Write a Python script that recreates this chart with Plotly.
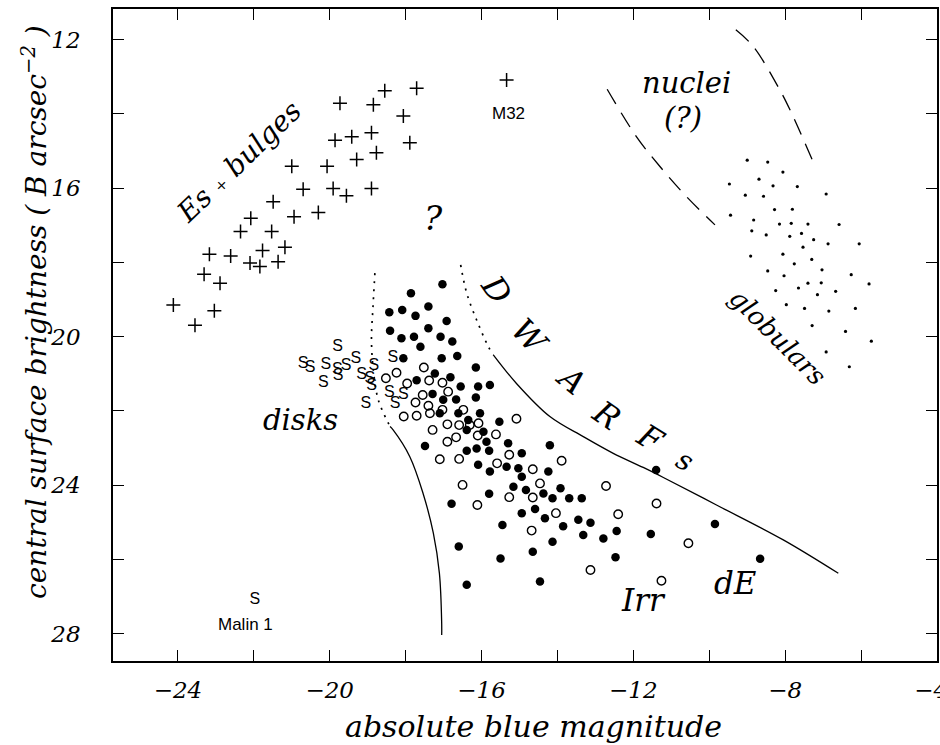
import plotly.graph_objects as go

# ---------------- data (absolute blue magnitude, central surface brightness) -------------
es_M = [-24.12, -23.55, -23.04, -23.31, -22.89, -23.17, -22.61, -22.35, -22.08, -22.10,
        -21.84, -21.77, -21.53, -21.49, -21.36, -21.18, -20.94, -21.00, -20.70, -20.30,
        -20.07, -19.91, -19.56, -19.86, -19.42, -18.90, -19.29, -18.77, -18.90, -19.73,
        -18.85, -18.55, -17.71, -18.06, -17.89]
es_mu = [19.15, 19.69, 19.30, 18.32, 18.56, 17.78, 17.83, 17.17, 16.81, 18.02,
         18.11, 17.68, 17.17, 16.37, 17.98, 17.59, 16.77, 15.41, 16.03, 16.66,
         15.41, 16.01, 16.21, 14.71, 14.62, 14.51, 15.23, 15.05, 16.01, 13.72,
         13.76, 13.38, 13.31, 14.06, 14.78]

m32_M = [-15.34]
m32_mu = [13.09]

glob_M = [-9.00, -8.46, -8.06, -8.69, -8.32, -7.68, -9.47, -9.05, -8.57, -6.92,
          -8.28, -7.81, -9.44, -8.83, -8.15, -7.84, -7.40, -6.58, -8.88, -8.50,
          -7.88, -7.57, -7.25, -6.87, -6.05, -7.53, -8.91, -8.06, -7.76, -7.30,
          -7.03, -8.46, -8.03, -6.26, -5.79, -7.40, -7.65, -7.05, -7.15, -6.67,
          -8.25, -7.97, -7.49, -6.85, -6.15, -7.29, -6.41, -5.73, -6.92, -6.31]
glob_mu = [15.25, 15.30, 15.57, 15.76, 15.94, 15.96, 15.89, 16.19, 16.22, 16.16,
           16.58, 16.57, 16.73, 16.86, 16.97, 16.95, 16.97, 16.98, 17.15, 17.26,
           17.30, 17.22, 17.39, 17.50, 17.50, 17.59, 17.83, 17.78, 18.04, 17.92,
           18.20, 18.23, 18.36, 18.33, 18.58, 18.56, 18.69, 18.55, 18.87, 18.78,
           18.76, 19.14, 19.24, 19.31, 19.24, 19.70, 19.86, 20.12, 20.41, 20.81]

dE_M = [-17.03, -17.86, -18.43, -18.09, -17.74, -17.40, -16.92, -18.41, -18.11, -17.78,
        -17.40, -17.61, -17.08, -16.77, -16.64, -17.05, -18.06, -16.15, -17.23, -16.82,
        -16.55, -16.09, -15.78, -17.71, -17.29, -17.01, -16.67, -16.15, -17.10, -16.61,
        -16.04, -16.35, -15.53, -16.39, -17.49, -15.95, -15.87, -16.13, -16.39, -15.80,
        -15.30, -14.94, -16.09, -15.78, -15.34, -15.03, -14.20, -14.24, -14.94, -15.16,
        -14.83, -15.80, -14.37, -13.92, -14.13, -13.69, -13.36, -16.79, -14.94, -14.59,
        -14.33, -13.45, -13.13, -15.45, -13.85, -13.32, -14.13, -16.60, -15.50, -14.65,
        -16.39, -14.46, -12.79, -12.44, -12.47, -11.54, -11.40, -9.85, -8.66]
dE_mu = [18.59, 18.83, 19.34, 19.28, 19.44, 19.19, 19.58, 19.84, 20.04, 20.00,
         19.77, 20.27, 20.00, 20.13, 20.52, 20.58, 20.58, 20.83, 20.99, 21.09,
         21.34, 21.34, 21.30, 21.17, 21.54, 21.70, 21.69, 21.64, 22.06, 22.06,
         22.06, 22.24, 22.29, 22.51, 22.94, 22.56, 22.83, 23.01, 23.07, 23.07,
         22.87, 23.14, 23.45, 23.63, 23.50, 23.54, 22.92, 23.63, 23.77, 24.04,
         24.13, 24.23, 24.22, 24.08, 24.35, 24.35, 24.35, 24.50, 24.75, 24.64,
         24.89, 24.93, 25.01, 25.07, 25.10, 25.34, 25.52, 25.65, 25.97, 25.79,
         26.68, 26.59, 25.43, 25.23, 25.94, 25.31, 23.59, 25.04, 25.98]

irr_M = [-17.52, -18.24, -18.52, -17.96, -17.38, -17.03, -16.88, -17.55, -17.74, -17.40,
         -17.36, -17.03, -18.05, -17.71, -16.90, -16.59, -16.48, -16.31, -16.08, -17.29,
         -16.90, -16.67, -16.10, -15.62, -15.08, -17.10, -16.59, -15.59, -15.27, -14.65,
         -13.89, -14.46, -16.50, -16.11, -15.27, -14.65, -14.04, -14.68, -13.13, -12.40,
         -12.72, -11.39, -10.55, -11.26]
irr_mu = [20.83, 20.97, 21.12, 21.26, 21.18, 21.24, 21.48, 21.57, 21.77, 21.86,
          22.06, 21.97, 22.15, 22.13, 22.36, 22.38, 21.97, 22.38, 22.33, 22.51,
          22.83, 22.71, 22.66, 22.63, 22.21, 23.30, 23.29, 23.41, 23.18, 23.57,
          23.34, 23.95, 23.99, 24.53, 24.32, 24.33, 24.75, 25.22, 26.28, 24.78,
          24.02, 24.49, 25.56, 26.57]

disk_M = [-19.79, -20.70, -20.52, -20.10, -19.80, -19.57, -19.31, -20.17, -19.78, -19.16,
          -18.84, -18.34, -18.94, -18.90, -18.43, -18.06, -19.05, -18.28]
disk_mu = [20.27, 20.73, 20.85, 20.76, 20.90, 20.78, 20.61, 21.26, 21.06, 21.03,
           20.79, 20.58, 21.15, 21.34, 21.51, 21.57, 21.81, 21.81]

malin_M = [-21.97]
malin_mu = [27.09]

# region boundaries
upper_dot_M = [-16.55, -16.39, -16.13, -15.82, -15.69]
upper_dot_mu = [18.07, 18.83, 19.55, 20.27, 20.49]
upper_M = [-15.69, -15.08, -14.20, -13.32, -12.53, -11.74, -11.21, -9.81, -8.05, -6.60]
upper_mu = [20.49, 21.26, 22.15, 22.69, 23.14, 23.52, 23.79, 24.53, 25.47, 26.37]
lower_dot_M = [-18.81, -18.86, -18.90, -18.85, -18.72, -18.41]
lower_dot_mu = [18.29, 19.20, 20.09, 20.90, 21.70, 22.42]
lower_M = [-18.41, -18.33, -17.89, -17.54, -17.27, -17.11, -17.05, -17.05]
lower_mu = [22.42, 22.51, 23.23, 24.22, 25.29, 26.37, 27.72, 28.03]
nuc_left_M = [-12.69, -11.93, -11.30, -10.60, -9.85]
nuc_left_mu = [13.34, 14.60, 15.42, 16.23, 16.99]
nuc_right_M = [-9.30, -8.84, -8.14, -7.87, -7.21]
nuc_right_mu = [11.74, 12.19, 13.36, 13.90, 15.42]

x_major = [-24, -20, -16, -12, -8, -4]
x_labels = ["\u221224", "\u221220", "\u221216", "\u221212", "\u22128", "\u22124\u2002"]
x_minor = [-22, -18, -14, -10, -6]
y_major = [12, 16, 20, 24, 28]
y_labels = ["12", "16", "20", "24", "28"]
y_minor = [14, 18, 22, 26]

# ---------------- figure ----------------
SERIF = "DejaVu Serif"
SANS = "Liberation Sans"
fig = go.Figure()

def line(xs, ys, dash="solid", width=1.3):
    fig.add_trace(go.Scatter(x=xs, y=ys, mode="lines", line_shape="spline",
                             line=dict(color="black", width=width, dash=dash),
                             hoverinfo="skip"))

line(upper_dot_M, upper_dot_mu, dash="2px,6px", width=1.7)
line(upper_M, upper_mu)
line(lower_dot_M, lower_dot_mu, dash="2px,6px", width=1.7)
line(lower_M, lower_mu)
line(nuc_left_M, nuc_left_mu, dash="17px,10px", width=1.3)
line(nuc_right_M, nuc_right_mu, dash="17px,10px", width=1.3)

fig.add_trace(go.Scatter(x=es_M + m32_M, y=es_mu + m32_mu, mode="markers",
                         marker=dict(symbol="cross-thin", size=10, color="black",
                                     line=dict(width=1.5, color="black"))))
fig.add_trace(go.Scatter(x=glob_M, y=glob_mu, mode="markers",
                         marker=dict(symbol="circle", size=3.2, color="black")))
fig.add_trace(go.Scatter(x=dE_M, y=dE_mu, mode="markers",
                         marker=dict(symbol="circle", size=8.5, color="black")))
fig.add_trace(go.Scatter(x=irr_M, y=irr_mu, mode="markers",
                         marker=dict(symbol="circle-open", size=8.5, color="black",
                                     line=dict(width=1.4, color="black"))))
fig.add_trace(go.Scatter(x=disk_M + malin_M, y=disk_mu + malin_mu, mode="text",
                         text=["S"] * (len(disk_M) + len(malin_M)),
                         textfont=dict(family=SANS, size=16, color="black")))

def note(x, y, text, size=26, angle=0, family=SERIF, italic=True):
    fig.add_annotation(x=x, y=y, text=text, showarrow=False, textangle=angle,
                       font=dict(family=family, size=size, color="black",
                                 style="italic" if italic else "normal"))

note(-22.38, 15.29, "Es <span style='font-size:15px'>+</span> bulges", size=28, angle=-44)
note(-17.27, 16.81, "?", size=34)
note(-15.29, 13.99, "M32", size=17, family=SANS, italic=False)
note(-10.60, 13.17, "nuclei", size=29)
note(-10.69, 14.11, "(?)", size=29)
note(-8.19, 20.01, "globulars", size=26, angle=45)
note(-20.76, 22.24, "disks", size=29)
note(-11.72, 27.09, "Irr", size=31)
note(-9.31, 26.64, "dE", size=31)
note(-22.21, 27.76, "Malin 1", size=17, family=SANS, italic=False)

dw_letters = ["D", "W", "A", "R", "F", "s"]
dw_M = [-15.60, -14.72, -13.63, -12.71, -11.56, -10.64]
dw_mu = [18.74, 20.00, 21.17, 22.11, 22.74, 23.32]
dw_ang = [55, 47, 40, 35, 32, 30]
for t, xm, ym, a in zip(dw_letters, dw_M, dw_mu, dw_ang):
    note(xm, ym, t, size=32 if t != "s" else 28, angle=a)

# axis titles
fig.add_annotation(xref="paper", yref="paper", x=0.51, y=-0.10, yanchor="middle",
                   text="absolute blue magnitude", showarrow=False,
                   font=dict(family=SERIF, size=30, color="black", style="italic"))
fig.add_annotation(xref="paper", yref="paper", x=-0.095, y=0.535, xanchor="center",
                   text="central surface brightness ( B arcsec<sup>\u22122</sup> )",
                   textangle=-90, showarrow=False,
                   font=dict(family=SERIF, size=28, color="black", style="italic"))

minor_common = dict(ticks="inside", ticklen=11, tickwidth=1.3, tickcolor="black",
                    showgrid=False)
axis_common = dict(showline=True, linecolor="black", linewidth=1.5, mirror="ticks",
                   ticks="inside", ticklen=11, tickwidth=1.3, tickcolor="black",
                   showgrid=False, zeroline=False, automargin=False,
                   ticklabeloverflow="allow",
                   tickfont=dict(family=SERIF, size=23, color="black", style="italic"))
fig.update_xaxes(range=[-25.71, -4.0], tickmode="array", tickvals=x_major,
                 ticktext=x_labels, ticklabelstandoff=8,
                 minor=dict(tickmode="array", tickvals=x_minor, **minor_common),
                 **axis_common)
fig.update_yaxes(range=[28.73, 11.18], tickmode="array", tickvals=y_major,
                 ticktext=y_labels, ticklabelstandoff=26,
                 minor=dict(tickmode="array", tickvals=y_minor, **minor_common),
                 **axis_common)

fig.update_layout(width=940, height=745, showlegend=False,
                  margin=dict(l=113, r=3, t=9, b=84, autoexpand=False),
                  paper_bgcolor="white", plot_bgcolor="white")

fig.write_html("out.html")
